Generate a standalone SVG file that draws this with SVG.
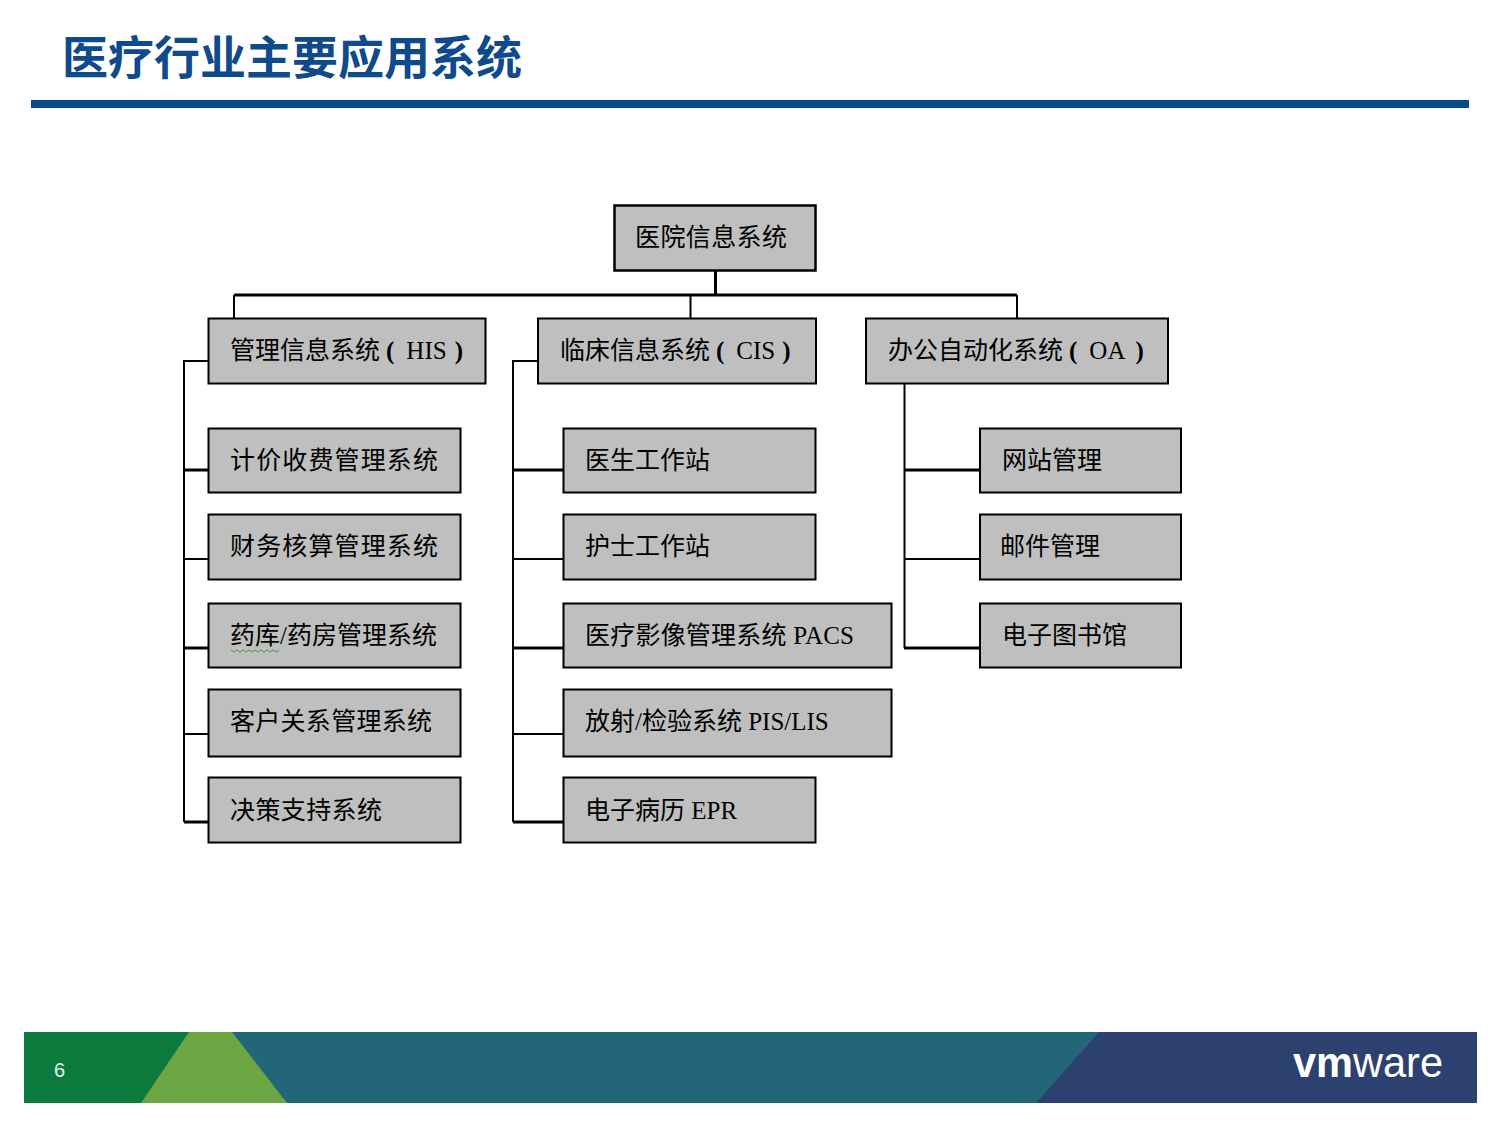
<svg xmlns="http://www.w3.org/2000/svg" width="1500" height="1125" viewBox="0 0 1500 1125">
<style>
.box{fill:#bfbfbf;stroke:#000;stroke-width:2}
.t{font-family:"Liberation Serif","Noto Sans CJK SC",serif;font-size:25px;fill:#000}
.p{font-weight:700}
.c{fill:none;stroke:#000;stroke-width:2}
.k{fill:none;stroke:#000;stroke-width:3}
</style>
<rect width="1500" height="1125" fill="#fff"/>
<text id="title" x="62" y="74" font-family="'Liberation Sans','Noto Sans CJK SC',sans-serif" font-size="46" font-weight="700" fill="#0e4a8c">医疗行业主要应用系统</text>
<rect id="title-rule" x="31" y="100" width="1438" height="8" fill="#0b4a8a"/>
<g id="connectors">
<path class="k" d="M715.500 271V295M234 295H1017"/>
<path class="c" d="M234 295V318M690.500 295V318M1017 295V318"/>
<path class="c" d="M208 361H184V822M184 559H208M184 734H208"/>
<path class="k" d="M184 470H208M184 648H208M184 822H208"/>
<path class="c" d="M538 361H513V822M513 559H563M513 734H563"/>
<path class="k" d="M513 470H563M513 648H563M513 822H563"/>
<path class="c" d="M904.500 384V648M904 559H980"/>
<path class="k" d="M904 470H980M904 648H980"/>
</g>
<g id="root"><rect class="box" style="stroke-width:2.500" x="614.500" y="205.500" width="201" height="65"/><text class="t" x="635" y="246" textLength="152">医院信息系统</text></g>
<g id="his"><rect class="box" x="208.500" y="318.500" width="277" height="65"/><text class="t" x="230" y="359">管理信息系统<tspan class="p" dx="6">(</tspan><tspan dx="12">HIS</tspan><tspan class="p" dx="8">)</tspan></text></g>
<g id="cis"><rect class="box" x="538" y="318.500" width="278" height="65"/><text class="t" x="560" y="359">临床信息系统<tspan class="p" dx="6">(</tspan><tspan dx="12">CIS</tspan><tspan class="p" dx="7">)</tspan></text></g>
<g id="oa"><rect class="box" x="866" y="318.500" width="302" height="65"/><text class="t" x="888" y="359">办公自动化系统<tspan class="p" dx="6">(</tspan><tspan dx="12">OA</tspan><tspan class="p" dx="10">)</tspan></text></g>
<g id="his-1"><rect class="box" x="208.500" y="428.500" width="252" height="64"/><text class="t" x="230" y="469" textLength="208">计价收费管理系统</text></g>
<g id="his-2"><rect class="box" x="208.500" y="514.500" width="252" height="65"/><text class="t" x="230" y="555" textLength="208">财务核算管理系统</text></g>
<g id="his-3"><rect class="box" x="208.500" y="603.500" width="252" height="64"/><text class="t" x="230" y="644">药库/药房管理系统</text><path d="M231 650l3 2 3-2 3 2 3-2 3 2 3-2 3 2 3-2 3 2 3-2 3 2 3-2 3 2 3-2 3 2 3-2" fill="none" stroke="#3a9a3a" stroke-width="1"/></g>
<g id="his-4"><rect class="box" x="208.500" y="689.500" width="252" height="67"/><text class="t" x="230" y="730" textLength="202">客户关系管理系统</text></g>
<g id="his-5"><rect class="box" x="208.500" y="777.500" width="252" height="65"/><text class="t" x="230" y="819" textLength="152">决策支持系统</text></g>
<g id="cis-1"><rect class="box" x="563.500" y="428.500" width="252" height="64"/><text class="t" x="585" y="469">医生工作站</text></g>
<g id="cis-2"><rect class="box" x="563.500" y="514.500" width="252" height="65"/><text class="t" x="585" y="555">护士工作站</text></g>
<g id="cis-3"><rect class="box" x="563.500" y="603.500" width="328" height="64"/><text class="t" x="585" y="644" textLength="269">医疗影像管理系统 PACS</text></g>
<g id="cis-4"><rect class="box" x="563.500" y="689.500" width="328" height="67"/><text class="t" x="585" y="730">放射/检验系统 PIS/LIS</text></g>
<g id="cis-5"><rect class="box" x="563.500" y="777.500" width="252" height="65"/><text class="t" x="585" y="819">电子病历 EPR</text></g>
<g id="oa-1"><rect class="box" x="980" y="428.500" width="201" height="64"/><text class="t" x="1002" y="469">网站管理</text></g>
<g id="oa-2"><rect class="box" x="980" y="514.500" width="201" height="65"/><text class="t" x="1000" y="555">邮件管理</text></g>
<g id="oa-3"><rect class="box" x="980" y="603.500" width="201" height="64"/><text class="t" x="1002" y="644">电子图书馆</text></g>
<g id="footer">
<rect x="24" y="1032" width="1453" height="71" fill="#226678"/>
<polygon points="24,1032 189,1032 141,1103 24,1103" fill="#0b7a3c"/>
<polygon points="189,1032 232,1032 287,1103 141,1103" fill="#6ba642"/>
<polygon points="1099,1032 1477,1032 1477,1103 1036,1103" fill="#2c4170"/>
<text x="54" y="1077" font-family="'Liberation Sans',sans-serif" font-size="20" fill="#e8f5ec">6</text>
<text x="1293" y="1077" font-family="'Liberation Sans',sans-serif" font-size="43" fill="#fff" textLength="150" lengthAdjust="spacingAndGlyphs"><tspan font-weight="700">vm</tspan>ware</text>
</g>
</svg>
